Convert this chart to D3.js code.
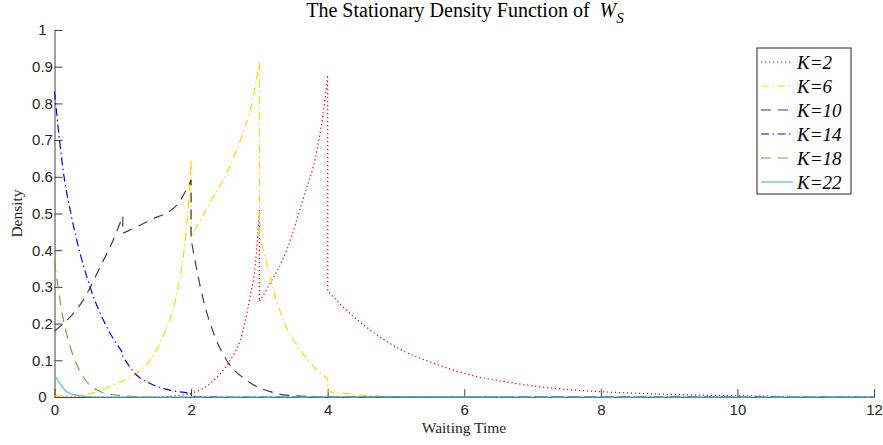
<!DOCTYPE html>
<html lang="en">
<head>
<meta charset="UTF-8">
<title>The Stationary Density Function of W_S</title>
<script src="https://d3js.org/d3.v7.min.js"></script>
<style>
  body { margin: 0; background: #fff; }
  svg { display: block; font-family: "Liberation Serif", "Times New Roman", serif; }
  .axis path, .axis line { stroke: #404040; stroke-width: 1; }
  .axis text { font-size: 15px; fill: #262626; }
  .curve { fill: none; stroke-width: 1.2; }
</style>
</head>
<body>
<svg id="chart" width="883" height="445"></svg>
<script>
// series names, in plotting order
const seriesNames = ["K=2", "K=6", "K=10", "K=14", "K=18", "K=22"];
const xTicks = [0, 2, 4, 6, 8, 10, 12];
const yTicks = [0, 0.1, 0.2, 0.3, 0.4, 0.5, 0.6, 0.7, 0.8, 0.9, 1];

// each series is a list of pieces [x, density]; consecutive pieces are joined by a vertical jump
const k2 = [
  [[0, 0], [1.5, 0], [1.8, 0.004], [2.0, 0.01], [2.28, 0.037], [2.57, 0.1], [2.72, 0.155], [2.86, 0.27], [2.94, 0.36], [2.98, 0.45], [3.0, 0.51]],
  [[3.0, 0.26], [3.16, 0.31], [3.4, 0.4], [3.64, 0.54], [3.84, 0.67], [3.96, 0.81], [4.0, 0.877]],
  [[4.0, 0.29], [4.2, 0.25], [4.57, 0.19], [5.06, 0.13], [5.55, 0.092], [6.13, 0.058], [6.62, 0.041],
   [7.1, 0.028], [7.6, 0.019], [8.0, 0.0145], [8.55, 0.01], [9.94, 0.0035], [11, 0.001], [12, 0]]
];
const k6 = [
  [[0, 0.003], [0.42, 0.006], [0.91, 0.037], [1.2, 0.065], [1.4, 0.1], [1.59, 0.165], [1.79, 0.28], [1.89, 0.39], [1.96, 0.52], [2.0, 0.646]],
  [[2.0, 0.437], [2.28, 0.53], [2.52, 0.61], [2.72, 0.7], [2.89, 0.8], [3.0, 0.911]],
  [[3.0, 0.44], [3.1, 0.37], [3.18, 0.31], [3.35, 0.21], [3.6, 0.128], [3.84, 0.074], [4.0, 0.051]],
  [[4.0, 0.0145], [4.23, 0.01], [4.67, 0.003], [5.5, 0], [12, 0]]
];
const k10 = [
  [[0, 0.18], [0.13, 0.2], [0.42, 0.264], [0.67, 0.355], [0.86, 0.428], [1.0, 0.493]],
  [[1.0, 0.446], [1.4, 0.482], [1.79, 0.523], [2.0, 0.591]],
  [[2.0, 0.43], [2.18, 0.264], [2.33, 0.174], [2.52, 0.1], [2.81, 0.046], [3.16, 0.0145], [3.4, 0.005], [4, 0.0005], [12, 0]]
];
const k14 = [
  [[0, 0.832], [0.14, 0.6], [0.24, 0.5], [0.52, 0.3], [0.74, 0.2], [1.0, 0.12]],
  [[1.0, 0.11], [1.2, 0.06], [1.4, 0.037], [1.7, 0.018], [1.98, 0.01], [2.0, 0.009]],
  [[2.0, 0.001], [2.5, 0], [12, 0]]
];
const k18 = [
  [[0, 0.369], [0.13, 0.21], [0.23, 0.137], [0.42, 0.055], [0.67, 0.015], [0.91, 0.005], [1.0, 0.003], [1.5, 0], [12, 0]]
];
const k22 = [
  [[0, 0.06], [0.08, 0.037], [0.18, 0.0145], [0.32, 0.005], [0.6, 0], [12, 0]]
];
const seriesData = [k2, k6, k10, k14, k18, k22];

const colors = ["#ff0000", "#ffd700", "#404040", "#0000ff", "#77ac30", "#4dbeee"];
const dashes = ["1.3,2.7", "8,3.5,1.5,3.5", "10,7", "8,3.5,1.5,3.5", "10,7", null];

const svg = d3.select("#chart");
const x = d3.scaleLinear().domain([0, 12]).range([54.5, 874]);
const y = d3.scaleLinear().domain([0, 1]).range([397, 30]);

// axes, ticks pointing inward
const xAxis = svg.append("g")
    .attr("class", "axis")
    .attr("transform", `translate(0,${y(0)})`)
    .call(d3.axisBottom(x).tickValues(xTicks).tickSizeInner(-8).tickSizeOuter(0).tickPadding(7).tickFormat(d3.format("d")));

const yAxis = svg.append("g")
    .attr("class", "axis")
    .attr("transform", `translate(${x(0)},0)`)
    .call(d3.axisLeft(y).tickValues(yTicks).tickSizeInner(-8).tickSizeOuter(0).tickFormat(d => d3.format("~g")(d)));
yAxis.selectAll("text").attr("x", -12).attr("text-anchor", "middle");

// curves
const line = d3.line()
    .x(d => x(d[0]))
    .y(d => y(d[1]))
    .curve(d3.curveMonotoneX);

function piecesPath(pieces) {
  return pieces.map((p, i) => {
    const s = line(p);
    return i === 0 ? s : "L" + s.slice(1);
  }).join("");
}

svg.append("g").selectAll("path")
  .data(seriesData)
  .enter().append("path")
    .attr("class", "curve")
    .attr("d", d => piecesPath(d))
    .attr("stroke", (d, i) => colors[i])
    .attr("stroke-dasharray", (d, i) => dashes[i]);

// title
const title = svg.append("text")
    .attr("x", 465)
    .attr("y", 17)
    .attr("text-anchor", "middle")
    .style("font-size", "20px")
    .attr("fill", "#000");
title.append("tspan").text("The Stationary Density Function of\u00a0\u00a0");
title.append("tspan").style("font-style", "italic").text("W");
title.append("tspan").style("font-style", "italic").style("font-size", "15px").attr("dy", 6).text("S");

// axis labels
svg.append("text")
    .attr("x", 464)
    .attr("y", 433)
    .attr("text-anchor", "middle")
    .style("font-size", "15.5px")
    .attr("fill", "#262626")
    .text("Waiting Time");

svg.append("text")
    .attr("transform", `translate(22,${(y(0) + y(1)) / 2}) rotate(-90)`)
    .attr("text-anchor", "middle")
    .style("font-size", "15.5px")
    .attr("fill", "#262626")
    .text("Density");

// legend
const legend = svg.append("g").attr("transform", "translate(757,48)");
legend.append("rect")
    .attr("width", 94)
    .attr("height", 146)
    .attr("fill", "#fff")
    .attr("stroke", "#262626")
    .attr("stroke-width", 1);

const items = legend.selectAll(".item")
  .data(seriesNames)
  .enter().append("g")
    .attr("class", "item")
    .attr("transform", (d, i) => `translate(0,${14 + i * 24})`);

items.append("line")
    .attr("x1", 4).attr("x2", 36)
    .attr("stroke", (d, i) => colors[i])
    .attr("stroke-width", 1.2)
    .attr("stroke-dasharray", (d, i) => dashes[i]);

items.append("text")
    .attr("x", 40)
    .attr("y", 6.5)
    .style("font-size", "19px")
    .style("font-style", "italic")
    .attr("fill", "#000")
    .text(d => d);
</script>
</body>
</html>
